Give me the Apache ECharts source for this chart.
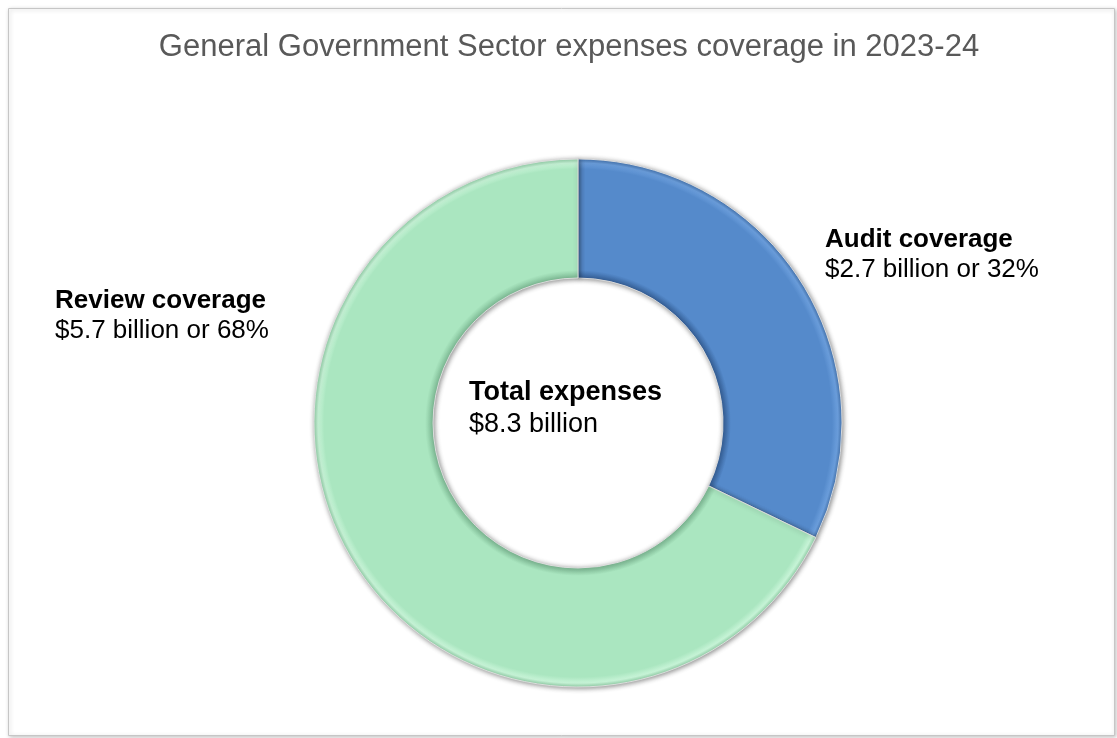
<!DOCTYPE html>
<html>
<head>
<meta charset="utf-8">
<title>General Government Sector expenses coverage in 2023-24</title>
<script src="https://cdn.jsdelivr.net/npm/echarts@6/dist/echarts.min.js"></script>
<style>
  html, body { margin: 0; padding: 0; background: #ffffff; }
  #chart { width: 1117px; height: 738px; }
</style>
</head>
<body>
<div id="chart"></div>
<script>
// Expense coverage, $ billion
const categories = ['Audit coverage', 'Review coverage'];
const coverageValues = [2.7, 5.7];
const totalExpenses = 8.3;
const chartTitle = 'General Government Sector expenses coverage in 2023-24';
const centreHeading = 'Total expenses';

const FONT = '"Liberation Sans", Arial, sans-serif';
const CX = 578, CY = 423, R_IN = 145, R_OUT = 264;

// Radial bevel: darker rim on the hole, light lip on the outer edge
function bevel(dark, base, light, rim) {
  const inner = R_IN / R_OUT;
  return {
    type: 'radial', x: CX, y: CY, r: R_OUT, global: true,
    colorStops: [
      { offset: 0, color: dark },
      { offset: inner, color: dark },
      { offset: inner + 0.03, color: base },
      { offset: 0.962, color: base },
      { offset: 0.985, color: light },
      { offset: 1, color: rim }
    ]
  };
}

const sliceFills = [
  bevel('#36619a', '#558acb', '#6b9edc', '#4778b5'),
  bevel('#7fbc96', '#aae6c0', '#c7f4d7', '#98d6ae')
];

// Label anchors (top-left of each two-line label)
const labelAnchors = [
  { x: 825, y: 225 },
  { x: 55, y: 286 }
];

const chart = echarts.init(document.getElementById('chart'), null, { renderer: 'canvas' });

chart.setOption({
  backgroundColor: '#ffffff',
  animation: false,
  graphic: [
    {
      type: 'rect', z: -10, silent: true,
      shape: { x: 8.5, y: 8.5, width: 1106, height: 727 },
      style: {
        fill: '#ffffff', stroke: '#c6c6c6', lineWidth: 1,
        shadowBlur: 4, shadowColor: 'rgba(0,0,0,0.22)', shadowOffsetX: 1, shadowOffsetY: 1
      }
    },
    {
      type: 'text', silent: true,
      style: {
        x: 569, y: 47, text: chartTitle,
        font: '31px ' + FONT, fill: '#595959',
        align: 'center', verticalAlign: 'middle'
      }
    },
    {
      type: 'text', silent: true,
      style: {
        x: 469, y: 377,
        text: '{h|' + centreHeading + '}\n{v|$' + totalExpenses.toFixed(1) + ' billion}',
        align: 'left', verticalAlign: 'top',
        rich: {
          h: { font: 'bold 27px ' + FONT, fill: '#000000', lineHeight: 32 },
          v: { font: '27px ' + FONT, fill: '#000000', lineHeight: 32 }
        }
      }
    }
  ],
  series: [
    {
      type: 'pie',
      center: [CX, CY],
      radius: [R_IN, R_OUT],
      startAngle: 90,
      clockwise: true,
      avoidLabelOverlap: false,
      emphasis: { disabled: true },
      itemStyle: {
        borderColor: 'rgba(225,225,225,0.9)',
        borderWidth: 1,
        shadowBlur: 5,
        shadowColor: 'rgba(0,0,0,0.45)',
        shadowOffsetX: 1,
        shadowOffsetY: 1
      },
      label: {
        show: true,
        position: 'outside',
        formatter: function (p) {
          return '{h|' + p.name + '}\n{v|$' + p.value.toFixed(1) + ' billion or ' + Math.round(p.percent) + '%}';
        },
        rich: {
          h: { fontFamily: FONT, fontWeight: 'bold', fontSize: 26, color: '#000000', lineHeight: 30 },
          v: { fontFamily: FONT, fontSize: 26, color: '#000000', lineHeight: 30 }
        }
      },
      labelLine: { show: false },
      labelLayout: function (params) {
        const a = labelAnchors[params.dataIndex];
        return { x: a.x, y: a.y, align: 'left', verticalAlign: 'top', moveOverlap: null };
      },
      data: categories.map(function (name, i) {
        return { name: name, value: coverageValues[i], itemStyle: { color: sliceFills[i] } };
      })
    }
  ]
});
</script>
</body>
</html>
